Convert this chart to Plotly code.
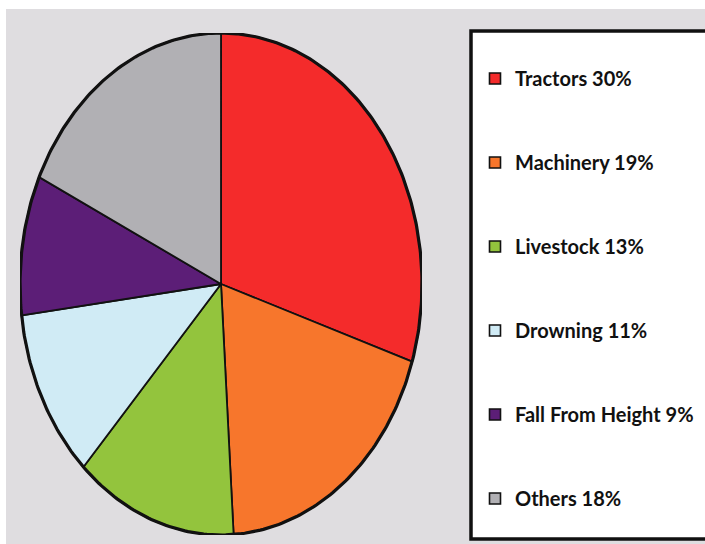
import numpy as np
import plotly.graph_objects as go

categories = ["Tractors", "Machinery", "Livestock", "Drowning", "Fall From Height", "Others"]
values = [30, 19, 13, 11, 9, 18]
colors = ["#f42b2b", "#f7762c", "#93c43d", "#d0ebf5", "#5c1e77", "#b1b0b4"]

fig = go.Figure()

total = sum(values)
start = 0.0
for cat, val, col in zip(categories, values, colors):
    a0 = start / total * 2 * np.pi
    a1 = (start + val) / total * 2 * np.pi
    t = np.linspace(a0, a1, max(int(val * 4), 8))
    xs = np.concatenate([[0], np.sin(t), [0]])
    ys = np.concatenate([[0], np.cos(t), [0]])
    fig.add_trace(go.Scatter(
        x=xs, y=ys, mode="lines", fill="toself", fillcolor=col,
        line=dict(color="#111111", width=1.8), showlegend=False,
        hoverinfo="text", text=f"{cat} {val}%"))
    start += val

# outer rim
tt = np.linspace(0, 2 * np.pi, 400)
fig.add_trace(go.Scatter(x=np.sin(tt), y=np.cos(tt), mode="lines",
                         line=dict(color="#111111", width=3.2),
                         showlegend=False, hoverinfo="skip"))

# legend entries
for i, (cat, val, col) in enumerate(zip(categories, values, colors)):
    fig.add_trace(go.Scatter(
        x=[None], y=[None], mode="markers", name=f"{cat} {val}%",
        legendgroup=f"g{i}",
        marker=dict(symbol="square", size=11, color=col,
                    line=dict(color="#111111", width=1.6))))

W, H = 705, 544
fig.update_layout(
    width=W, height=H,
    margin=dict(l=0, r=0, t=0, b=0),
    paper_bgcolor="white", plot_bgcolor="rgba(0,0,0,0)",
    xaxis=dict(domain=[20 / W, 422 / W], range=[-1, 1], visible=False, fixedrange=True),
    yaxis=dict(domain=[1 - 535 / H, 1 - 33 / H], range=[-1, 1], visible=False, fixedrange=True),
    shapes=[
        dict(type="rect", xref="paper", yref="paper", x0=6 / W, x1=1.0, y0=0, y1=1 - 9 / H,
             fillcolor="#dfdde0", line=dict(width=0), layer="below"),
        dict(type="rect", xref="paper", yref="paper", x0=471 / W, x1=1.02, y0=1 - 539 / H, y1=1 - 31 / H,
             fillcolor="white", line=dict(color="#111111", width=3.5), layer="below"),
    ],
    legend=dict(x=475 / W, xanchor="left", y=1 - 59 / H, yanchor="top",
                bgcolor="rgba(0,0,0,0)", borderwidth=0,
                font=dict(family="Lato", size=20, color="#111111", weight="bold"),
                tracegroupgap=55, itemsizing="trace"),
    showlegend=True,
)

fig.write_html("out.html", config={"displayModeBar": False},
               post_script="document.body.style.margin='0';document.body.style.overflow='hidden';")
